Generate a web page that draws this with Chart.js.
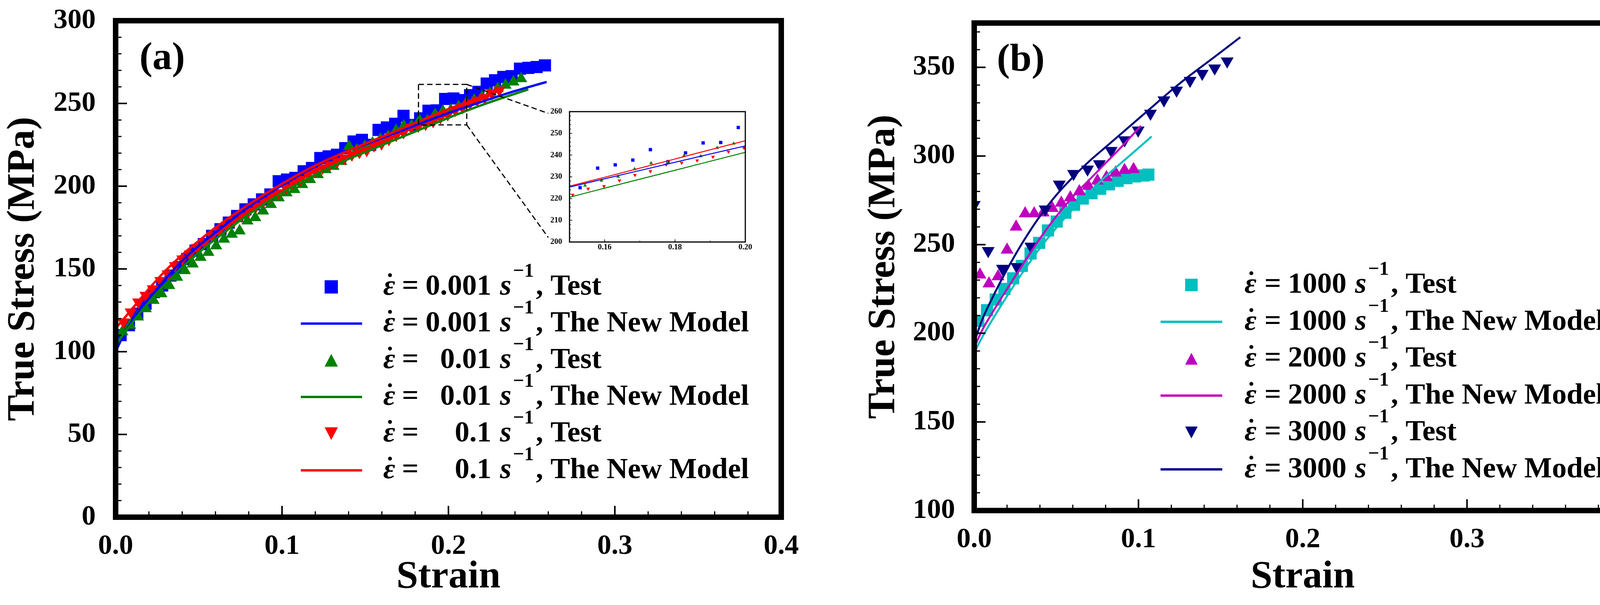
<!DOCTYPE html>
<html>
<head>
<meta charset="utf-8">
<script src="https://cdn.jsdelivr.net/npm/chart.js@4"></script>
<style>
  html, body { margin: 0; padding: 0; background: #fff; }
  body { width: 4220px; height: 1550px; position: relative; overflow: hidden; }
  canvas { position: absolute; }
</style>
</head>
<body>
<canvas id="chartA" width="2110" height="1550" style="left:0;top:0;width:2110px;height:1550px"></canvas>
<canvas id="chartB" width="2020" height="1550" style="left:2200px;top:0;width:2020px;height:1550px"></canvas>
<canvas id="inset" width="560" height="400" style="left:1380px;top:270px;width:560px;height:400px"></canvas>
<script>
// ---- data: panel (a), quasi-static rates ----
const ratesA = ['0.001', '0.01', '0.1'];
const ratesB = ['1000', '2000', '3000'];
const legendKinds = ['Test', 'The New Model'];

const xTicks = [0, 0.1, 0.2, 0.3, 0.4];
const xTickLabels = ['0.0', '0.1', '0.2', '0.3', '0.4'];
const yTicksA = [0, 50, 100, 150, 200, 250, 300];
const yTicksB = [100, 150, 200, 250, 300, 350];
const insetXTicks = [0.16, 0.18, 0.20];
const insetXTickLabels = ['0.16', '0.18', '0.20'];
const insetYTicks = [200, 210, 220, 230, 240, 250, 260];

// 0.001 s^-1 test (blue squares)
const strainTestA1 = [0.003,0.008,0.013,0.018,0.023,0.028,0.033,0.038,0.043,0.048,0.053,0.058,0.063,0.068,0.073,0.078,0.083,0.088,0.093,0.098,0.103,0.108,0.113,0.118,0.123,0.128,0.133,0.138,0.143,0.148,0.153,0.158,0.163,0.168,0.173,0.178,0.183,0.188,0.193,0.198,0.203,0.208,0.213,0.218,0.223,0.228,0.233,0.238,0.243,0.248,0.253,0.258];
const stressTestA1 = [110,116,123,129,136,140,146,151,156,161,165,170,174,178,182,186,189,192,195,203,204,205,209,211,217,218,219,223,227,228,225,234,235.5,237.7,242.5,237,241,245.6,245.8,252.7,253,252,255,257,262,264,266,266.5,271,271.5,272,273];
// 0.01 s^-1 test (green triangles)
const strainTestA2 = [0.0040,0.0087,0.0134,0.0181,0.0228,0.0275,0.0322,0.0369,0.0416,0.0463,0.0510,0.0557,0.0604,0.0651,0.0698,0.0745,0.0792,0.0839,0.0886,0.0933,0.0980,0.1027,0.1074,0.1121,0.1168,0.1215,0.1262,0.1309,0.1356,0.1403,0.1450,0.1497,0.1544,0.1591,0.1638,0.1685,0.1732,0.1779,0.1826,0.1873,0.1920,0.1967,0.2014,0.2061,0.2108,0.2155,0.2202,0.2249,0.2296,0.2343,0.2390,0.2437];
const stressTestA2 = [112,116,121,126,131,135,140,145,149,153,157,160,164,168,171,173,179,181,185,189,193,196,198,201,204,207,210,212,215,224,222,224,226,228.3,230.1,233.6,236.3,236.5,239.8,239.5,243.4,245.3,246,248,250.5,252,254,256,259,261,263,265];
// 0.1 s^-1 test (red down triangles)
const strainTestA3 = [0.0047,0.0091,0.0136,0.0180,0.0224,0.0269,0.0313,0.0357,0.0401,0.0446,0.0490,0.0534,0.0579,0.0623,0.0667,0.0712,0.0756,0.0800,0.0844,0.0889,0.0933,0.0977,0.1022,0.1066,0.1110,0.1155,0.1199,0.1243,0.1287,0.1332,0.1376,0.1420,0.1465,0.1509,0.1553,0.1598,0.1642,0.1686,0.1730,0.1775,0.1819,0.1863,0.1908,0.1952,0.1996,0.2041,0.2085,0.2129,0.2173,0.2218,0.2262,0.2306];
const stressTestA3 = [118,124,130,134,138,143,147,152,156,159,163,166,170,173,176,179,182,185,188,191,194,196,199,202,204,207,209,211,213,215,217,219,220.5,221.7,224.5,225.7,228.3,230.8,232.5,235.6,236.4,237.5,239.2,241.5,243.3,246,247.5,250,252,253.5,256,258];

// model curves, panel (a)
const strainModelA1 = [0,0.005,0.01,0.02,0.03,0.04,0.05,0.06,0.08,0.10,0.12,0.14,0.15,0.16,0.18,0.20,0.22,0.24,0.259];
const stressModelA1 = [100,110.5,118.5,132,144,155,164,172,187.5,200.5,212,221.5,225.3,229.1,236.7,244.2,251,257.5,263];
const strainModelA2 = [0,0.005,0.01,0.02,0.03,0.04,0.05,0.06,0.08,0.10,0.12,0.14,0.15,0.16,0.18,0.20,0.22,0.248];
const stressModelA2 = [104,111,117.5,130,141,151,160,168,183,196,207,216.5,220.6,224.8,233,241.3,249,258.5];
const strainModelA3 = [0,0.005,0.01,0.02,0.03,0.04,0.05,0.06,0.08,0.10,0.12,0.14,0.15,0.16,0.18,0.20,0.22,0.233];
const stressModelA3 = [114,120,126,138,149,158.5,167,175,189,201.5,212.5,221.5,225.7,229.8,238.2,246.6,254,258.5];

// ---- data: panel (b), dynamic rates ----
const strainTestB1 = [0.0025,0.0078,0.0131,0.0184,0.0237,0.0290,0.0343,0.0396,0.0449,0.0502,0.0555,0.0608,0.0661,0.0714,0.0767,0.0820,0.0873,0.0926,0.0979,0.1032,0.1060];
const stressTestB1 = [207,213,219,225,231,238,245,251,258,263,268,272.5,276,279,281.5,284,286,287.5,288.5,289,289.5];
const strainTestB2 = [0.0035,0.0090,0.0145,0.0200,0.0255,0.0310,0.0365,0.0420,0.0475,0.0530,0.0585,0.0640,0.0695,0.0750,0.0805,0.0860,0.0915,0.0970];
const stressTestB2 = [233,228,232,247,260,267.5,267.5,268,270.5,273.5,276.5,280,283,286,288,290.5,292,292.5];
const strainTestB3 = [0.0000,0.0085,0.0172,0.0260,0.0345,0.0432,0.0518,0.0605,0.0690,0.0762,0.0834,0.0916,0.0998,0.1073,0.1155,0.1232,0.1314,0.1388,0.1464,0.1540];
const stressTestB3 = [272.5,246.5,236.5,237.5,249,270,284,290,292.5,295.5,303,309,314.5,324,331.5,337,342.5,346.5,349.5,353.5];

const strainModelB1 = [0,0.005,0.01,0.02,0.03,0.04,0.05,0.06,0.07,0.08,0.09,0.10,0.108];
const stressModelB1 = [189,198,206,221,235,248,259.5,270,279.5,288.5,296.5,304.5,311];
const strainModelB2 = [0,0.005,0.01,0.02,0.03,0.04,0.05,0.06,0.07,0.08,0.09,0.1015];
const stressModelB2 = [192,202,210,225,239.5,253.5,266,277,286.5,296,305.5,317];
const strainModelB3 = [0,0.005,0.01,0.02,0.03,0.04,0.05,0.06,0.07,0.08,0.09,0.10,0.11,0.12,0.13,0.14,0.15,0.162];
const stressModelB3 = [195,208,218,236,252,266,278,288,297,305,313,321,329,337,344.5,351.5,358.5,367];

// zoom window drawn on panel (a) and the ends of its leader lines
const zoomBoxStrain = [0.182, 0.211];
const zoomBoxStress = [237, 261.5];
const leaderEnds = [[0.26, 244], [0.26, 169]];

// ---- styling ----
const SERIF = '"Liberation Serif", "Times New Roman", serif';
const BLUE = '#0000ff', GREEN = '#008000', RED = '#ff0000';
const CYAN = '#00bfbf', MAGENTA = '#bf00bf', NAVY = '#000080';

Chart.defaults.font.family = SERIF;
Chart.defaults.color = '#000';

const pts = (xs, ys) => xs.map((x, i) => ({x: x, y: ys[i]}));

const testSet = (xs, ys, color, style, rot, r, row, order) => ({
  data: pts(xs, ys), showLine: false, pointStyle: style, pointRotation: rot,
  pointRadius: r, pointBackgroundColor: color, pointBorderWidth: 0,
  borderColor: color, backgroundColor: color, legendRow: row, order: order
});
const modelSet = (xs, ys, color, w, row, order) => ({
  data: pts(xs, ys), showLine: true, pointRadius: 0, borderColor: color,
  borderWidth: w, cubicInterpolationMode: 'monotone', legendRow: row, order: order
});

// frame + inward ticks, like the origin-style plots
const frameTicks = {
  id: 'frameTicks',
  afterDatasetsDraw(chart, args, o) {
    const {ctx, chartArea: a} = chart;
    const x = chart.scales.x, y = chart.scales.y;
    const steps = (min, max, step) => {
      const out = [];
      for (let k = 0; min + k * step <= max + 1e-9; k++) out.push(min + k * step);
      return out;
    };
    const tick = (vals, len, lw, isX) => {
      ctx.lineWidth = lw;
      ctx.beginPath();
      vals.forEach(v => {
        if (isX) {
          const px = x.getPixelForValue(v);
          ctx.moveTo(px, a.bottom); ctx.lineTo(px, a.bottom - len);
        } else {
          const py = y.getPixelForValue(v);
          ctx.moveTo(a.left, py); ctx.lineTo(a.left + len, py);
        }
      });
      ctx.stroke();
    };
    ctx.save();
    ctx.strokeStyle = '#000';
    tick(steps(x.min, x.max, o.xMinor), o.minorLen, o.minorW, true);
    tick(steps(y.min, y.max, o.yMinor), o.minorLen, o.minorW, false);
    tick(x.ticks.map(t => t.value), o.majorLen, o.majorW, true);
    tick(y.ticks.map(t => t.value), o.majorLen, o.majorW, false);
    ctx.lineWidth = o.frame;
    ctx.strokeRect(a.left, a.top, a.right - a.left, a.bottom - a.top);
    ctx.restore();
  }
};

function drawMarker(ctx, style, rot, x, y, s, color) {
  ctx.fillStyle = color;
  ctx.beginPath();
  if (style === 'rect') {
    ctx.rect(x - s / 2, y - s / 2, s, s);
  } else {
    const h = s * 0.95, d = rot ? -1 : 1;
    ctx.moveTo(x, y - d * h / 2);
    ctx.lineTo(x + s / 2, y + d * h / 2);
    ctx.lineTo(x - s / 2, y + d * h / 2);
    ctx.closePath();
  }
  ctx.fill();
}

// legend with the strain-rate notation, built from the datasets
const strainLegend = {
  id: 'strainLegend',
  afterDraw(chart, args, o) {
    if (!o.rates) return;
    const ctx = chart.ctx;
    ctx.save();
    ctx.textBaseline = 'alphabetic';
    chart.data.datasets.forEach(ds => {
      if (ds.legendRow === undefined) return;
      const yc = o.row0 + ds.legendRow * o.rowGap;
      const yb = yc + 20;
      if (ds.showLine) {
        ctx.strokeStyle = ds.borderColor;
        ctx.lineWidth = o.lineW;
        ctx.beginPath(); ctx.moveTo(o.lineX0, yc); ctx.lineTo(o.lineX1, yc); ctx.stroke();
      } else {
        drawMarker(ctx, ds.pointStyle, ds.pointRotation, o.markX, yc, o.markSize, ds.pointBackgroundColor);
      }
      ctx.fillStyle = '#000';
      ctx.textAlign = 'left';
      ctx.font = 'italic bold 75px ' + SERIF;
      ctx.fillText('\u03b5', o.x0, yb);
      const ew = ctx.measureText('\u03b5').width;
      ctx.beginPath();
      ctx.arc(o.x0 + ew / 2 + 2, yb - 50, 5, 0, Math.PI * 2);
      ctx.fill();
      ctx.font = 'bold 75px ' + SERIF;
      ctx.fillText('=', o.x0 + o.eqOff, yb);
      ctx.textAlign = 'right';
      ctx.fillText(o.rates[Math.floor(ds.legendRow / 2)], o.numEnd, yb);
      ctx.textAlign = 'left';
      ctx.font = 'italic bold 75px ' + SERIF;
      const sx = o.numEnd + 22;
      ctx.fillText('s', sx, yb);
      const supX = sx + ctx.measureText('s').width + 4;
      ctx.font = 'bold 50px ' + SERIF;
      ctx.fillText('\u22121', supX, yb - 46);
      const cx = supX + ctx.measureText('\u22121').width + 5;
      ctx.font = 'bold 75px ' + SERIF;
      ctx.fillText(', ' + legendKinds[ds.legendRow % 2], cx, yb);
    });
    if (o.panel) {
      ctx.font = 'bold 100px ' + SERIF;
      ctx.textAlign = 'left';
      ctx.fillText(o.panel, o.panelX, o.panelY);
    }
    ctx.restore();
  }
};

// dashed zoom window with leader lines towards the inset
const zoomWindow = {
  id: 'zoomWindow',
  afterDatasetsDraw(chart, args, o) {
    if (!o.box) return;
    const {ctx} = chart;
    const x = chart.scales.x, y = chart.scales.y;
    const x0 = x.getPixelForValue(zoomBoxStrain[0]), x1 = x.getPixelForValue(zoomBoxStrain[1]);
    const y0 = y.getPixelForValue(zoomBoxStress[0]), y1 = y.getPixelForValue(zoomBoxStress[1]);
    ctx.save();
    ctx.strokeStyle = '#000';
    ctx.lineWidth = 3;
    ctx.setLineDash([14, 8]);
    ctx.strokeRect(x0, y1, x1 - x0, y0 - y1);
    ctx.beginPath();
    ctx.moveTo(x1, y1);
    ctx.lineTo(x.getPixelForValue(leaderEnds[0][0]), y.getPixelForValue(leaderEnds[0][1]));
    ctx.moveTo(x1, y0);
    ctx.lineTo(x.getPixelForValue(leaderEnds[1][0]), y.getPixelForValue(leaderEnds[1][1]));
    ctx.stroke();
    ctx.restore();
  }
};

function panelOptions(p) {
  return {
    responsive: false, animation: false, devicePixelRatio: 1, events: [],
    layout: {padding: {left: 0, top: p.top, right: p.right, bottom: 0}},
    plugins: {
      legend: {display: false}, tooltip: {enabled: false},
      frameTicks: {frame: 14, majorLen: 29, minorLen: 15, majorW: 4, minorW: 3, xMinor: 0.02, yMinor: 10},
      strainLegend: p.legend,
      zoomWindow: {box: p.box}
    },
    scales: {
      x: {
        type: 'linear', min: 0, max: 0.4,
        grid: {display: false, drawTicks: false}, border: {display: false},
        ticks: {font: {size: 72, weight: 'bold'}, padding: 32, maxRotation: 0, autoSkip: false,
          callback: (v, i) => xTickLabels[i]},
        afterBuildTicks: s => { s.ticks = xTicks.map(v => ({value: v})); },
        afterFit: s => { s.height = p.xHeight; s.paddingLeft = 0; s.paddingRight = 0; },
        title: {display: true, text: 'Strain', font: {size: 100, weight: 'bold'}, padding: {top: 0, bottom: 11}}
      },
      y: {
        type: 'linear', min: p.yMin, max: p.yMax,
        grid: {display: false, drawTicks: false}, border: {display: false},
        ticks: {font: {size: 72, weight: 'bold'}, padding: p.yPad, autoSkip: false},
        afterBuildTicks: s => { s.ticks = p.yTicks.map(v => ({value: v})); },
        afterFit: s => { s.width = p.yWidth; s.paddingTop = 0; s.paddingBottom = 0; },
        title: {display: true, text: 'True Stress (MPa)', font: {size: 100, weight: 'bold'}, padding: {top: p.titlePad, bottom: 0}}
      }
    }
  };
}

new Chart(document.getElementById('chartA'), {
  type: 'scatter',
  data: {datasets: [
    testSet(strainTestA1, stressTestA1, BLUE, 'rect', 0, 22, 0, 5),
    modelSet(strainModelA1, stressModelA1, BLUE, 6, 1, 2),
    testSet(strainTestA2, stressTestA2, GREEN, 'triangle', 0, 18, 2, 4),
    modelSet(strainModelA2, stressModelA2, GREEN, 6, 3, 1),
    testSet(strainTestA3, stressTestA3, RED, 'triangle', 180, 18, 4, 3),
    modelSet(strainModelA3, stressModelA3, RED, 6, 5, 0)
  ]},
  options: panelOptions({
    top: 53, right: 110, xHeight: 225, yWidth: 296, yMin: 0, yMax: 300, yTicks: yTicksA,
    yPad: 51, titlePad: 0, box: true,
    legend: {rates: ratesA, x0: 981, eqOff: 48, numEnd: 1258, lineX0: 770, lineX1: 927, lineW: 6,
      markX: 848, markSize: 34, row0: 735, rowGap: 94, panel: '(a)', panelX: 357, panelY: 177}
  }),
  plugins: [frameTicks, zoomWindow, strainLegend]
});

new Chart(document.getElementById('chartB'), {
  type: 'scatter',
  data: {datasets: [
    testSet(strainTestB1, stressTestB1, CYAN, 'rect', 0, 22, 0, 5),
    modelSet(strainModelB1, stressModelB1, CYAN, 5, 1, 2),
    testSet(strainTestB2, stressTestB2, MAGENTA, 'triangle', 0, 19, 2, 4),
    modelSet(strainModelB2, stressModelB2, MAGENTA, 5, 3, 1),
    testSet(strainTestB3, stressTestB3, NAVY, 'triangle', 180, 19, 4, 3),
    modelSet(strainModelB3, stressModelB3, NAVY, 5, 5, 0)
  ]},
  options: panelOptions({
    top: 59, right: 44, xHeight: 242, yWidth: 294, yMin: 100, yMax: 375, yTicks: yTicksB,
    yPad: 49, titlePad: 3, box: false,
    legend: {rates: ratesB, x0: 986, eqOff: 51, numEnd: 1247, lineX0: 771, lineX1: 929, lineW: 6,
      markX: 850, markSize: 32, row0: 730, rowGap: 94.5, panel: '(b)', panelX: 352, panelY: 181}
  }),
  plugins: [frameTicks, strainLegend]
});

// magnified inset of panel (a)
new Chart(document.getElementById('inset'), {
  type: 'scatter',
  data: {datasets: [
    testSet(strainTestA1, stressTestA1, BLUE, 'rect', 0, 6, undefined, 5),
    testSet(strainTestA2, stressTestA2, GREEN, 'triangle', 0, 5.5, undefined, 4),
    testSet(strainTestA3, stressTestA3, RED, 'triangle', 180, 5.5, undefined, 3),
    modelSet(strainModelA1, stressModelA1, BLUE, 2.5, undefined, 1),
    modelSet(strainModelA2, stressModelA2, GREEN, 2.5, undefined, 2),
    modelSet(strainModelA3, stressModelA3, RED, 2.5, undefined, 0)
  ]},
  options: {
    responsive: false, animation: false, devicePixelRatio: 1, events: [],
    layout: {padding: {left: 0, top: 16, right: 32, bottom: 0}},
    plugins: {
      legend: {display: false}, tooltip: {enabled: false},
      frameTicks: {frame: 3, majorLen: 7, minorLen: 4, majorW: 1.5, minorW: 1.2, xMinor: 0.01, yMinor: 2},
      strainLegend: {}
    },
    scales: {
      x: {
        type: 'linear', min: 0.15, max: 0.20,
        grid: {display: false, drawTicks: false}, border: {display: false},
        ticks: {font: {size: 20, weight: 'bold'}, padding: 2, maxRotation: 0, autoSkip: false,
          callback: (v, i) => insetXTickLabels[i]},
        afterBuildTicks: s => { s.ticks = insetXTicks.map(v => ({value: v})); },
        afterFit: s => { s.height = 50; s.paddingLeft = 0; s.paddingRight = 0; }
      },
      y: {
        type: 'linear', min: 200, max: 260,
        grid: {display: false, drawTicks: false}, border: {display: false},
        ticks: {font: {size: 20, weight: 'bold'}, padding: 19, autoSkip: false},
        afterBuildTicks: s => { s.ticks = insetYTicks.map(v => ({value: v})); },
        afterFit: s => { s.width = 78; s.paddingTop = 0; s.paddingBottom = 0; }
      }
    }
  },
  plugins: [frameTicks]
});
</script>
</body>
</html>
